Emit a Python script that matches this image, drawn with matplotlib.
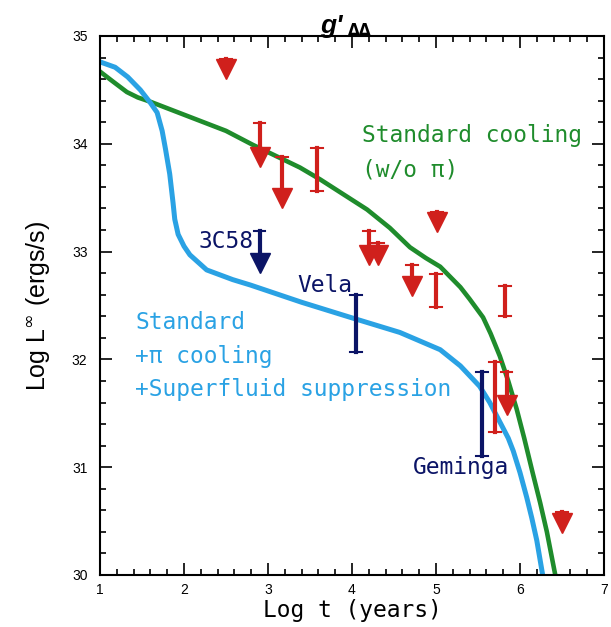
import matplotlib
matplotlib.use('Agg')
import matplotlib.pyplot as plt
from matplotlib.ticker import MultipleLocator

# ── Data ──────────────────────────────────────────────────────────────────────
# standard cooling (w/o pi) curve
std_t = [1.00, 1.15, 1.32, 1.45, 1.60, 2.00, 2.50, 2.82, 3.38, 3.62, 4.18, 4.45, 4.69,
         4.88, 5.05, 5.29, 5.40, 5.56, 5.65, 5.76, 5.86, 5.96, 6.05, 6.15, 6.24,
         6.32, 6.37, 6.42]
std_L = [34.67, 34.58, 34.48, 34.43, 34.39, 34.27, 34.12, 33.99, 33.78, 33.67, 33.39, 33.22, 33.04,
         32.94, 32.86, 32.67, 32.56, 32.39, 32.24, 32.03, 31.80, 31.54, 31.27, 30.95, 30.67,
         30.40, 30.20, 30.00]

# standard + pi cooling + superfluid suppression curve
pi_t = [1.00, 1.18, 1.33, 1.48, 1.60, 1.68, 1.74, 1.78, 1.83, 1.87, 1.89, 1.93,
        2.00, 2.07, 2.27, 2.58, 2.79, 3.40, 3.98, 4.57, 5.05, 5.29, 5.52, 5.64,
        5.76, 5.86, 5.92, 6.00, 6.08, 6.14, 6.20, 6.27]
pi_L = [34.76, 34.71, 34.62, 34.50, 34.38, 34.29, 34.12, 33.95, 33.72, 33.45, 33.30, 33.16,
        33.05, 32.97, 32.83, 32.74, 32.69, 32.53, 32.39, 32.25, 32.09, 31.94, 31.75, 31.60,
        31.42, 31.27, 31.15, 30.95, 30.72, 30.53, 30.32, 30.00]

# red observations: error bars (t, low, high)
obs_t = [3.58, 5.00, 5.82, 5.70]
obs_lo = [33.56, 32.49, 32.40, 31.33]
obs_hi = [33.96, 32.79, 32.68, 31.98]

# red upper limits (t, top, arrow tip)
ul_t = [2.50, 2.90, 3.17, 4.20, 4.31, 4.71, 5.01, 5.84, 6.50]
ul_top = [34.79, 34.19, 33.88, 33.19, 33.08, 32.88, 33.37, 31.88, 30.58]
ul_tip = [34.61, 33.79, 33.41, 32.88, 32.88, 32.60, 33.19, 31.49, 30.40]

# named pulsars
psr_names = ['3C58', 'Vela', 'Geminga']
psr_t = [2.90, 4.05, 5.55]
psr_lo = [32.81, 32.07, 31.10]
psr_hi = [33.19, 32.60, 31.88]
psr_limit = [True, False, False]

RED = '#d0201c'
NAVY = '#0b1466'
GREEN = '#1f8c2c'
BLUE = '#2aa2e4'
MONO = 'DejaVu Sans Mono'
SANS = 'Liberation Sans'

fig = plt.figure(figsize=(6.11, 6.27), dpi=100)
ax = fig.add_axes([100/611, 1 - 575/627, 504/611, 539/627])

ax.plot(std_t, std_L, color=GREEN, lw=3.3, solid_joinstyle='round', zorder=2)
ax.plot(pi_t, pi_L, color=BLUE, lw=3.6, solid_joinstyle='round', zorder=2)

head = 0.17  # arrow head height in log L


def draw_limit(x, top, tip, color):
    base = tip + head
    if top > base:
        ax.plot([x, x], [top, base], color=color, lw=3, zorder=3)
    ax.plot([x - 0.07, x + 0.07], [top, top], color=color, lw=1.5, zorder=3)
    ax.plot(x, tip + head / 2, marker='v', ms=15, color=color, mec=color, zorder=3)


def draw_bar(x, lo, hi, color):
    ax.plot([x, x], [lo, hi], color=color, lw=3, zorder=3)
    for y in (lo, hi):
        ax.plot([x - 0.07, x + 0.07], [y, y], color=color, lw=1.5, zorder=3)


for x, lo, hi in zip(obs_t, obs_lo, obs_hi):
    draw_bar(x, lo, hi, RED)
for x, top, tip in zip(ul_t, ul_top, ul_tip):
    draw_limit(x, top, tip, RED)
for x, lo, hi, lim in zip(psr_t, psr_lo, psr_hi, psr_limit):
    if lim:
        draw_limit(x, hi, lo, NAVY)
    else:
        draw_bar(x, lo, hi, NAVY)

# ── Labels in the plot ────────────────────────────────────────────────────────
fs = 16.5
ax.text(2.83, 33.09, psr_names[0], color=NAVY, family=MONO, fontsize=fs,
        ha='right', va='center')
ax.text(3.35, 32.69, psr_names[1], color=NAVY, family=MONO, fontsize=fs,
        ha='left', va='center')
ax.text(4.73, 31.00, psr_names[2], color=NAVY, family=MONO, fontsize=fs,
        ha='left', va='center')

ax.text(4.12, 34.08, 'Standard cooling', color=GREEN, family=MONO, fontsize=fs,
        ha='left', va='center')
ax.text(4.12, 33.76, '(w/o π)', color=GREEN, family=MONO, fontsize=fs,
        ha='left', va='center')

ax.text(1.42, 32.34, 'Standard', color=BLUE, family=MONO, fontsize=fs,
        ha='left', va='center')
ax.text(1.42, 32.03, '+π cooling', color=BLUE, family=MONO, fontsize=fs,
        ha='left', va='center')
ax.text(1.42, 31.72, '+Superfluid suppression', color=BLUE, family=MONO, fontsize=fs,
        ha='left', va='center')

# ── Axes ──────────────────────────────────────────────────────────────────────
ax.set_xlim(1, 7)
ax.set_ylim(30, 35)
ax.xaxis.set_major_locator(MultipleLocator(1))
ax.xaxis.set_minor_locator(MultipleLocator(0.2))
ax.yaxis.set_major_locator(MultipleLocator(1))
ax.yaxis.set_minor_locator(MultipleLocator(0.2))
ax.tick_params(which='both', direction='in', top=True, right=True, width=1.2)
ax.tick_params(which='major', length=8.5)
ax.tick_params(which='minor', length=4.5)
ax.tick_params(axis='x', pad=6)
ax.tick_params(axis='y', pad=9)
for lab in ax.get_xticklabels() + ax.get_yticklabels():
    lab.set_family(SANS)
    lab.set_fontsize(10)
for sp in ax.spines.values():
    sp.set_linewidth(1.5)

ax.set_xlabel('Log t (years)', family=MONO, fontsize=fs, labelpad=1)
ax.set_ylabel(r'Log L$^{\infty}$ (ergs/s)', family=SANS, fontsize=18, labelpad=14)

# title g'_{ΔΔ}
fig.text(331/611, 1 - 26/627, "g'", fontsize=19, fontweight='bold', style='italic',
         family=SANS, ha='center', va='center')
fig.text(360/611, 1 - 35/627, 'ΔΔ', fontsize=11, fontweight='bold',
         family='DejaVu Sans', ha='center', va='baseline')

fig.savefig('out.png', dpi=100)
